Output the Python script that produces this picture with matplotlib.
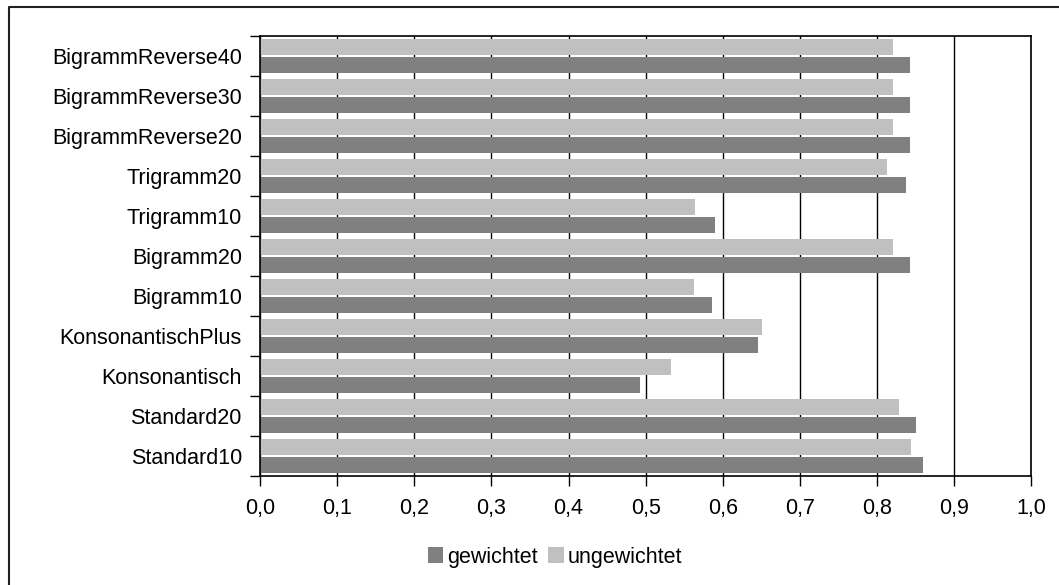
import numpy as np
import matplotlib.pyplot as plt
from matplotlib.lines import Line2D
from matplotlib.ticker import FixedLocator, MultipleLocator, FuncFormatter

plt.rcParams['font.family'] = ['Liberation Sans', 'DejaVu Sans']

categories = ['Standard10', 'Standard20', 'Konsonantisch', 'KonsonantischPlus',
              'Bigramm10', 'Bigramm20', 'Trigramm10', 'Trigramm20',
              'BigrammReverse20', 'BigrammReverse30', 'BigrammReverse40']
gewichtet = [0.859, 0.850, 0.493, 0.646, 0.586, 0.843, 0.590, 0.837, 0.843, 0.843, 0.843]
ungewichtet = [0.844, 0.828, 0.533, 0.651, 0.562, 0.820, 0.564, 0.813, 0.820, 0.820, 0.820]

fs = 15.5
fig = plt.figure(figsize=(10.59, 5.85), dpi=100)
ax = fig.add_axes([0.2455, 0.1863, 0.7285, 0.7522])

y = np.arange(len(categories))
h = 0.38
ax.barh(y - 0.225, gewichtet, height=h, color='#808080', label='gewichtet', zorder=2)
ax.barh(y + 0.225, ungewichtet, height=h, color='#c0c0c0', label='ungewichtet', zorder=2)

ax.set_xlim(0, 1.0)
ax.set_ylim(-0.5, len(categories) - 0.5)

# vertical grid every 0.1, behind bars
ax.xaxis.set_major_locator(MultipleLocator(0.1))
ax.xaxis.set_major_formatter(FuncFormatter(lambda v, p: f'{v:.1f}'.replace('.', ',')))
ax.grid(axis='x', color='black', linewidth=1, zorder=0)
ax.set_axisbelow(True)

# category labels centred, ticks at group boundaries
ax.yaxis.set_major_locator(FixedLocator(np.arange(-0.5, len(categories), 1.0)))
ax.yaxis.set_major_formatter(FuncFormatter(lambda v, p: ''))
ax.set_yticks(y, minor=True)
ax.set_yticklabels(categories, minor=True, fontsize=fs)
ax.tick_params(axis='y', which='minor', length=0, pad=13)
ax.tick_params(axis='y', which='major', length=7, width=1, direction='out', color='black')
ax.tick_params(axis='x', length=7, width=1, direction='out', color='black', labelsize=fs, pad=9)

for s in ax.spines.values():
    s.set_color('black')
    s.set_linewidth(1.2)

fig.legend(loc='center', bbox_to_anchor=(555 / 1059, 1 - 557 / 585), ncol=2,
           frameon=False, fontsize=fs, handlelength=0.7, handleheight=0.7,
           handletextpad=0.2, columnspacing=0.5)

# outer frame lines (left and top)
fig.add_artist(Line2D([9 / 1059, 9 / 1059, 1.0], [0.0, 1 - 7 / 585, 1 - 7 / 585],
                      transform=fig.transFigure, color='#202020', linewidth=1.5))

fig.savefig('out.png', dpi=100)
